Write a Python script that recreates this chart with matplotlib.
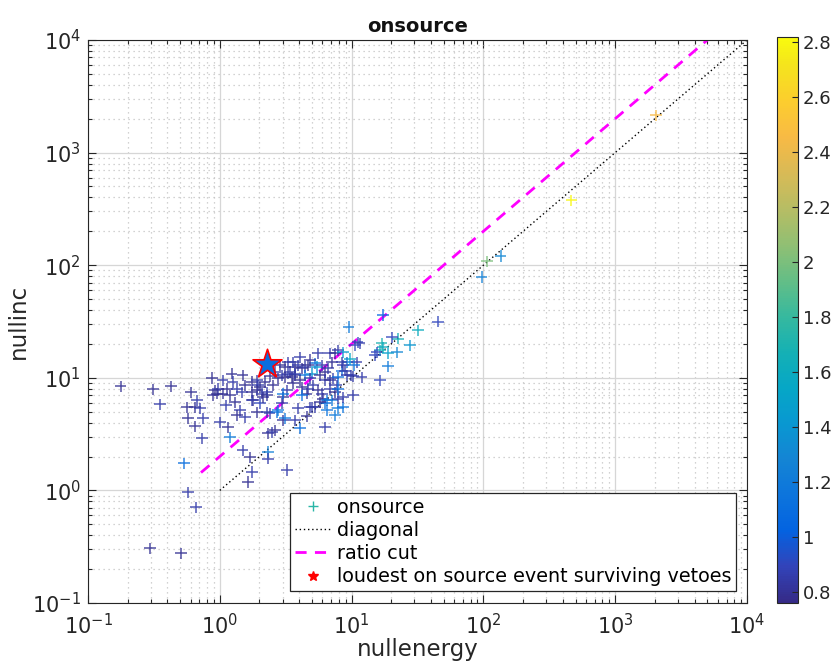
import numpy as np
import matplotlib
matplotlib.use("Agg")
import matplotlib.pyplot as plt
from matplotlib.colors import LinearSegmentedColormap, Normalize
from matplotlib.lines import Line2D
from matplotlib.ticker import LogLocator, NullFormatter

# ---------------- data ----------------
nullenergy = [
    0.177, 0.31, 0.425, 0.35, 0.294, 0.506, 0.572, 0.658, 0.533, 0.603,
    0.669, 0.646, 0.562, 0.705, 0.572, 0.743, 0.646, 0.73, 0.87,
    0.916, 0.966, 0.885, 0.949, 1.05, 1.23, 1.49, 1.25, 1.13, 1.05,
    1.35, 1.55, 1.75, 1.94, 2.19, 1.19, 1.30, 1.47, 1.75, 1.91,
    2.08, 1.78, 2.27, 1.42, 1.91, 2.27, 2.01, 1.0, 1.15, 1.19,
    1.35, 1.55, 1.49, 1.69, 1.75, 1.63, 2.39, 2.71, 2.31, 2.48,
    2.61, 2.31, 2.31, 3.22, 3.01, 1.11,
    3.28, 2.75, 2.95, 3.11, 3.40, 3.71, 2.53, 2.27, 2.01, 1.91,
    2.12, 1.75, 3.01, 2.95, 2.75, 3.11, 3.58, 3.22, 3.71, 3.91,
    4.19, 4.42, 4.66, 5.26, 5.44, 5.95, 6.27, 3.28, 3.52, 3.71,
    3.11, 4.42, 4.99, 4.05, 4.82, 5.74, 6.27, 6.84, 7.2, 7.85,
    8.4, 4.19, 4.66, 4.56, 5.95, 6.05, 6.27, 6.49, 7.07, 3.01,
    4.19, 5.26, 5.74, 4.82, 7.46, 6.49, 7.85, 3.91, 4.99, 3.71,
    4.56, 4.05, 6.27, 8.58, 5.54, 6.84, 7.46, 7.85, 4.05, 4.82,
    3.58, 2.85, 2.61, 2.39, 5.07, 5.54, 6.84, 7.46, 7.85, 8.58,
    10.2, 6.61, 7.07,
    9.5, 17.3, 45.0, 31.8, 27.7, 22.5, 20.2, 16.9, 17.3, 16.4,
    15.5, 15.0, 18.9, 22.0, 18.9, 16.4, 11.1, 11.5, 10.6, 8.58,
    9.68, 9.3, 10.9, 8.4, 8.58, 8.88, 9.2, 9.86, 10.2, 10.4,
    11.9, 7.7, 7.85,
    106, 135, 97, 465, 2030,
]
nullinc = [
    8.4, 7.9, 8.4, 5.8, 0.305, 0.276, 0.96, 0.706, 1.74, 7.42,
    6.3, 5.46, 5.46, 5.35, 4.36, 4.36, 3.70, 2.9, 9.9,
    7.73, 8.0, 6.98, 7.25, 9.48, 10.9, 10.5, 9.16, 8.0, 7.25,
    8.0, 8.56, 9.16, 8.56, 9.16, 6.98, 6.05, 7.42, 7.42, 7.73,
    7.25, 6.3, 6.98, 5.13, 4.93, 4.93, 5.93, 4.02, 3.63, 2.96,
    4.63, 4.45, 2.27, 1.96, 1.45, 1.18, 4.83, 4.93, 3.21, 3.27,
    3.41, 2.18, 1.92, 1.51, 4.19, 5.69,
    13.7, 9.86, 10.5, 12.4, 11.2, 10.5, 8.56, 7.42, 8.22, 9.48,
    6.7, 6.3, 6.7, 5.93, 5.13, 4.36, 8.9, 7.73, 12.4, 12.9,
    12.1, 12.4, 12.9, 13.4, 12.4, 12.9, 11.2, 10.9, 10.1, 10.9,
    10.1, 10.5, 10.9, 9.48, 9.86, 10.5, 9.48, 9.48, 9.86, 10.1,
    11.6, 8.22, 8.0, 7.25, 7.25, 6.54, 5.93, 6.3, 6.3, 7.25,
    6.98, 5.46, 6.05, 5.46, 4.63, 5.13, 5.35, 5.35, 5.46, 4.19,
    4.54, 3.55, 3.63, 5.46, 16.5, 16.5, 16.5, 17.5, 15.2, 14.3,
    13.7, 12.9, 11.2, 10.3, 8.56, 7.73, 8.0, 7.42, 6.54, 6.7,
    6.98, 12.1, 13.7,
    28.2, 35.9, 31.6, 26.4, 19.4, 22.3, 22.8, 20.2, 18.6, 17.5,
    16.8, 15.8, 16.5, 16.8, 12.6, 9.48, 20.6, 20.2, 19.4, 16.8,
    14.6, 13.7, 13.7, 13.7, 12.9, 11.6, 10.5, 10.5, 10.3, 12.9,
    10.1, 8.56, 8.0,
    108, 120, 79, 376, 2140,
]
significance = [
    0.8, 0.8, 0.8, 0.85, 0.8, 0.8, 0.85, 0.85, 1.1, 0.8,
    0.85, 0.8, 0.8, 0.85, 0.8, 0.85, 0.8, 0.85, 0.8,
    0.8, 0.85, 0.8, 0.8, 0.85, 0.8, 0.8, 0.85, 0.8, 0.8,
    0.85, 0.8, 0.8, 0.85, 0.8, 0.8, 0.8, 0.85, 0.8, 0.8,
    0.85, 0.8, 0.8, 0.85, 0.8, 0.85, 0.9, 0.85, 0.8, 1.2,
    0.8, 0.85, 0.85, 0.8, 0.85, 0.8, 0.85, 1.1, 0.8, 0.85,
    0.8, 1.25, 0.85, 0.85, 0.8, 0.85,
    0.85, 0.8, 0.85, 0.8, 0.85, 0.8, 0.8, 0.85, 0.8, 0.85,
    0.8, 0.85, 0.8, 0.85, 1.2, 1.15, 0.8, 0.85, 0.8, 0.85,
    0.8, 0.85, 0.8, 1.1, 1.4, 0.85, 0.8, 0.85, 0.8, 0.85,
    0.8, 1.15, 1.4, 0.8, 0.85, 0.8, 0.85, 0.8, 0.85, 1.1,
    1.1, 0.8, 0.85, 0.8, 0.85, 0.8, 1.1, 1.15, 1.2, 1.15,
    1.1, 0.85, 0.8, 0.85, 1.2, 1.15, 1.2, 0.85, 0.85, 0.85,
    0.8, 1.1, 0.85, 1.15, 0.85, 0.85, 0.8, 0.85, 0.85, 0.8,
    0.85, 0.8, 0.85, 0.8, 0.85, 0.8, 0.85, 0.8, 0.85, 0.85,
    0.85, 0.85, 0.8,
    1.2, 1.05, 0.9, 1.6, 1.4, 1.65, 0.9, 1.7, 1.6, 1.65,
    0.9, 0.9, 1.5, 1.3, 1.2, 0.9, 0.9, 0.85, 0.9, 1.45,
    1.55, 1.2, 0.85, 0.85, 0.85, 0.85, 0.85, 0.85, 0.85, 1.15,
    0.85, 0.85, 1.1,
    2.0, 1.3, 1.25, 2.8, 2.45,
]
loudest_x = [2.27]
loudest_y = [13.2]
loudest_c = [1.1]
diag_x = [1.0, 1e4]
ratio_x = [0.72, 1e4]
ratio_factor = 2.0
clim = (0.76, 2.82)

# parula-like colormap
parula_pts = [
    (0.2081, 0.1663, 0.5292), (0.1959, 0.2645, 0.7279), (0.0117, 0.3875, 0.8820),
    (0.0498, 0.4586, 0.8641), (0.0793, 0.5200, 0.8312), (0.0343, 0.5966, 0.8199),
    (0.0228, 0.6535, 0.7768), (0.0843, 0.6928, 0.7062), (0.2178, 0.7250, 0.6193),
    (0.3953, 0.7459, 0.5244), (0.5709, 0.7485, 0.4494), (0.7184, 0.7411, 0.3905),
    (0.8507, 0.7299, 0.3360), (0.9739, 0.7314, 0.2666), (0.9880, 0.8066, 0.1794),
    (0.9589, 0.8949, 0.1132), (0.9763, 0.9831, 0.0538),
]
pos = [0, 4, 8, 12, 16, 20, 24, 28, 32, 36, 40, 44, 48, 52, 56, 60, 63]
parula = LinearSegmentedColormap.from_list(
    "parula", [(p / 63.0, c) for p, c in zip(pos, parula_pts)])

plt.rcParams['font.family'] = ['DejaVu Sans']

W, H = 838, 668
fig = plt.figure(figsize=(W / 100, H / 100), dpi=100)
ax = fig.add_axes([88 / W, 1 - 603 / H, (747 - 88) / W, (603 - 40) / H])
cax = fig.add_axes([777 / W, 1 - 603 / H, 21 / W, (603 - 37) / H])

norm = Normalize(*clim)
ax.set_xscale('log')
ax.set_yscale('log')

sc = ax.scatter(nullenergy, nullinc, c=significance, cmap=parula, norm=norm,
                marker='+', s=70, linewidths=1.1, alpha=0.85, zorder=3)
ax.plot(diag_x, diag_x, color='k', linestyle=(0, (1, 2)), linewidth=1.0, zorder=2)
rx = np.array(ratio_x)
ax.plot(rx, ratio_factor * rx, color='#ff00ff', linestyle=(0, (4, 3)),
        linewidth=2.0, zorder=2)
ax.scatter(loudest_x, loudest_y, c=loudest_c, cmap=parula, norm=norm, marker='*',
           s=480, edgecolors='red', linewidths=1.2, zorder=4)

ax.set_xlim(1e-1, 1e4)
ax.set_ylim(1e-1, 1e4)
ax.xaxis.set_major_locator(LogLocator(base=10, numticks=10))
ax.yaxis.set_major_locator(LogLocator(base=10, numticks=10))
ax.xaxis.set_minor_locator(LogLocator(base=10, subs=np.arange(2, 10), numticks=20))
ax.yaxis.set_minor_locator(LogLocator(base=10, subs=np.arange(2, 10), numticks=20))
ax.xaxis.set_minor_formatter(NullFormatter())
ax.yaxis.set_minor_formatter(NullFormatter())

ax.grid(True, which='major', color='#d6d6d6', linestyle='-', linewidth=0.9, zorder=0)
ax.grid(True, which='minor', color='#c4c4c4', linestyle=(0, (1, 3)), linewidth=0.9, zorder=0)
ax.set_axisbelow(True)
ax.tick_params(which='both', direction='in', top=True, right=True,
               labelsize=15, colors='#262626', width=0.8)
ax.tick_params(which='major', length=6)
ax.tick_params(which='minor', length=3)
ax.tick_params(axis='x', which='major', pad=7)
ax.tick_params(axis='y', which='major', pad=5)
for s in ax.spines.values():
    s.set_color('#262626')
    s.set_linewidth(0.8)

ax.set_xlabel('nullenergy', fontsize=16.5, color='#262626', labelpad=0)
ax.set_ylabel('nullinc', fontsize=16.5, color='#262626', labelpad=2)
ax.set_title('onsource', fontsize=14, fontweight='bold', color='#111111', pad=6)

cb = fig.colorbar(sc, cax=cax)
cb.solids.set_alpha(1)
cb.set_ticks([0.8, 1.0, 1.2, 1.4, 1.6, 1.8, 2.0, 2.2, 2.4, 2.6, 2.8])
cb.set_ticklabels(['0.8', '1', '1.2', '1.4', '1.6', '1.8', '2', '2.2', '2.4', '2.6', '2.8'])
cax.tick_params(direction='in', length=4, labelsize=13, colors='#262626', width=0.8)
cb.outline.set_linewidth(0.8)
cb.outline.set_edgecolor('#262626')

handles = [
    Line2D([], [], linestyle='none', marker='+', color=parula(norm(1.75)),
           markersize=7, markeredgewidth=1.0),
    Line2D([], [], color='k', linestyle=(0, (1, 2)), linewidth=1.0),
    Line2D([], [], color='#ff00ff', linestyle=(0, (4, 3)), linewidth=2.0),
    Line2D([], [], linestyle='none', marker='*', color='red', markersize=7),
]
labels = ['onsource', 'diagonal', 'ratio cut', 'loudest on source event surviving vetoes']
leg = ax.legend(handles, labels, loc='lower right',
                bbox_to_anchor=(1 - 11 / 659, 12 / 563), borderaxespad=0,
                fontsize=13.8, frameon=True, fancybox=False, handlelength=1.9,
                handletextpad=0.3, labelspacing=0.22, borderpad=0.25)
leg.get_frame().set_edgecolor('#262626')
leg.get_frame().set_linewidth(0.9)
leg.get_frame().set_alpha(1)

fig.savefig('out.png', dpi=100)
